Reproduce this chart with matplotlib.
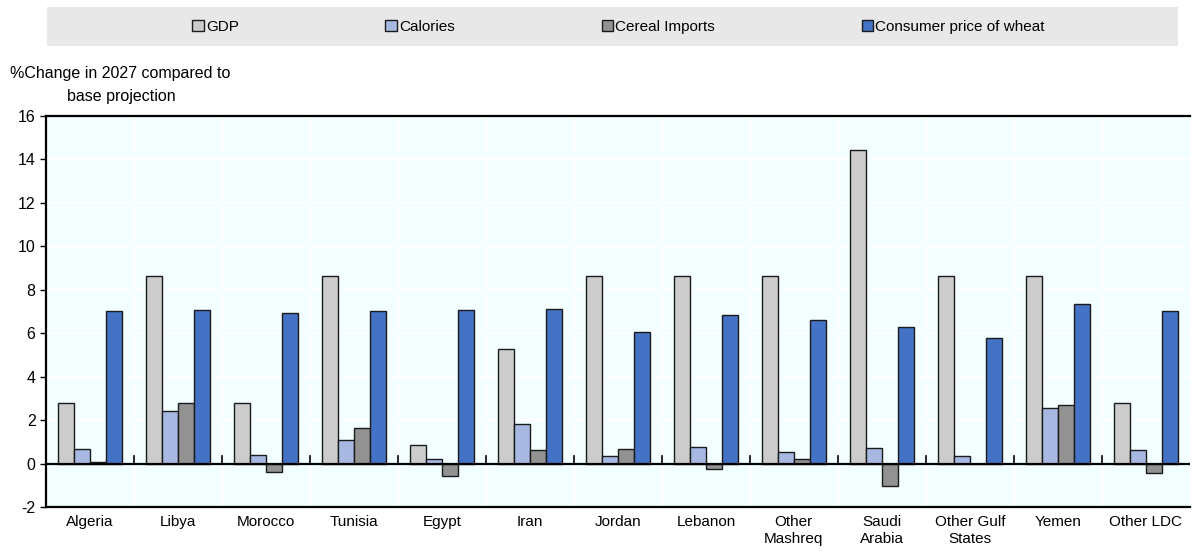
import matplotlib.pyplot as plt
import numpy as np
from matplotlib.patches import Rectangle, Patch

plt.rcParams['font.family'] = ['Liberation Sans', 'DejaVu Sans']
plt.rcParams['axes.unicode_minus'] = False

countries = ["Algeria", "Libya", "Morocco", "Tunisia", "Egypt", "Iran", "Jordan",
             "Lebanon", "Other\nMashreq", "Saudi\nArabia", "Other Gulf\nStates",
             "Yemen", "Other LDC"]
gdp = [2.8, 8.65, 2.8, 8.65, 0.85, 5.25, 8.65, 8.65, 8.65, 14.45, 8.65, 8.65, 2.8]
calories = [0.65, 2.4, 0.38, 1.1, 0.2, 1.82, 0.35, 0.75, 0.52, 0.7, 0.33, 2.55, 0.62]
cereal = [0.07, 2.8, -0.38, 1.65, -0.55, 0.62, 0.68, -0.27, 0.2, -1.05, 0.0, 2.68, -0.45]
wheat = [7.0, 7.07, 6.93, 7.03, 7.07, 7.12, 6.07, 6.85, 6.62, 6.3, 5.8, 7.35, 7.03]

series = ["GDP", "Calories", "Cereal Imports", "Consumer price of wheat"]
colors = ["#CCCCCC", "#A7B9E3", "#929292", "#4472C4"]

fig = plt.figure(figsize=(11.94, 5.52), dpi=100)
ax = fig.add_axes([0.0385, 0.0815, 0.958, 0.7085])
ax.set_facecolor("#F2FEFF")

x = np.arange(len(countries))
w = 0.182
for i, vals in enumerate([gdp, calories, cereal, wheat]):
    ax.bar(x + (i - 1.5) * w, vals, w, color=colors[i], edgecolor="#1a1a1a",
           linewidth=1.0, zorder=3, label=series[i])

ax.set_xlim(-0.5, len(countries) - 0.5)
ax.set_ylim(-2, 16)
ax.set_yticks(range(-2, 17, 2))
ax.set_xticks(x)
ax.set_xticklabels(countries, fontsize=11)
ax.tick_params(axis='x', length=0, pad=6)
ax.tick_params(axis='y', labelsize=11.5, length=4, width=1)

ax.grid(axis='y', color="white", linewidth=1.2, zorder=0)
for b in np.arange(0.5, len(countries) - 0.5):
    ax.axvline(b, color="white", linewidth=1.2, zorder=0)
    ax.plot([b, b], [0, 0.35], color="black", linewidth=1.2, zorder=4)
ax.axhline(0, color="black", linewidth=1.6, zorder=4)

for s in ax.spines.values():
    s.set_linewidth(1.6)
ax.spines['right'].set_visible(False)

fig.text(0.008, 0.866, "%Change in 2027 compared to", fontsize=11.5, ha='left', va='center')
fig.text(0.056, 0.826, "base projection", fontsize=11.5, ha='left', va='center')

fig.patches.append(Rectangle((0.039, 0.917), 0.948, 0.07, transform=fig.transFigure,
                             facecolor="#E8E8E8", edgecolor="none", zorder=0))
handles = [Patch(facecolor=c, edgecolor="#1a1a1a", linewidth=1.0) for c in colors]
fig.legend(handles, series, loc='center', bbox_to_anchor=(0.518, 0.951), ncol=4,
           frameon=False, fontsize=11, handlelength=0.75, handleheight=0.75,
           handletextpad=0.15, columnspacing=9.6)

plt.savefig("out.png", dpi=100)
